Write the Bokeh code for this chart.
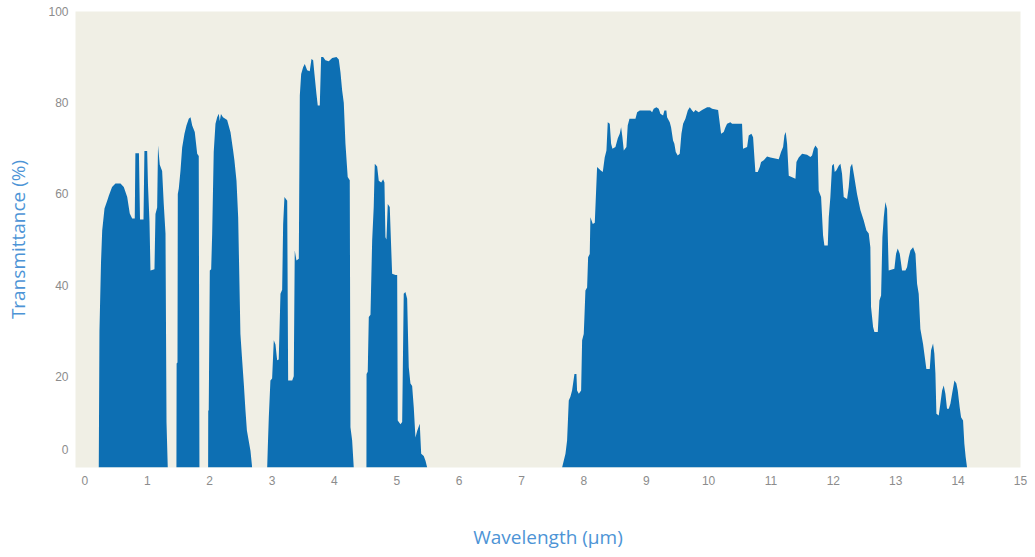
from bokeh.plotting import figure
from bokeh.models import ColumnDataSource, FixedTicker, Range1d
from bokeh.embed import file_html
from bokeh.resources import INLINE

# Atmospheric transmittance windows, wavelength in µm and transmittance in %
band1_wl = [0.223, 0.234, 0.259, 0.278, 0.315, 0.358, 0.384, 0.436, 0.491, 0.571, 0.624, 0.679, 0.720,
            0.759, 0.800, 0.810, 0.867, 0.884, 0.940, 0.955, 0.999, 1.012, 1.036, 1.052, 1.116, 1.132,
            1.159, 1.173, 1.201, 1.239, 1.264, 1.293, 1.309, 1.329]
band1_tr = [0, 30, 45, 52, 56.8, 58.5, 59.6, 61.5, 62.3, 62.3, 61.5, 59.3, 55.7,
            54.6, 54.6, 68.9, 68.9, 54.4, 54.4, 69.4, 69.4, 62, 54, 43.2, 43.5, 55.6,
            57, 70.6, 66.4, 65, 58, 51.3, 10, 0]

band2_wl = [1.468, 1.471, 1.485, 1.490, 1.506, 1.533, 1.560, 1.597, 1.629, 1.666, 1.694, 1.721,
            1.762, 1.801, 1.826, 1.837]
band2_tr = [0, 22.8, 23, 60, 61.2, 65.1, 70.2, 73.2, 75, 76.5, 76.8, 75,
            73.6, 68.8, 68.3, 0]

band3_wl = [1.976, 1.978, 1.986, 2.003, 2.025, 2.041, 2.066, 2.094, 2.121, 2.147, 2.163, 2.182,
            2.214, 2.281, 2.335, 2.377, 2.398, 2.431, 2.458, 2.494, 2.522, 2.548, 2.575, 2.598,
            2.655, 2.682]
band3_tr = [0, 12.5, 12.5, 43.2, 43.5, 51.2, 69.2, 75.4, 76.8, 77.6, 76, 77.5,
            76.8, 76.2, 73.5, 69.5, 67.3, 62.9, 54.9, 29.3, 23.5, 18.4, 12.5, 8.1,
            3.7, 0]

band4_wl = [2.923, 2.933, 2.949, 2.975, 3.002, 3.029, 3.056, 3.083, 3.108, 3.136, 3.163, 3.179,
            3.200, 3.244, 3.259, 3.324, 3.349, 3.365, 3.392, 3.430, 3.446, 3.468, 3.499, 3.526,
            3.564, 3.605, 3.633, 3.660, 3.681, 3.713, 3.734, 3.766, 3.788, 3.820, 3.857, 3.910,
            3.965, 4.034, 4.071, 4.098, 4.125, 4.151, 4.178, 4.214, 4.247, 4.258, 4.285, 4.311]
band4_tr = [0, 4.5, 11, 19.1, 19.5, 27.9, 27, 23.5, 23.7, 38.1, 39, 53.4,
            59.3, 58.5, 19.1, 19.1, 20, 47.6, 45.4, 45.8, 81.6, 86.3, 87.8, 88.5,
            87.1, 86.9, 89.6, 89.3, 86.3, 81.9, 79.4, 79.4, 90, 90, 89.3, 89.1,
            89.8, 90, 89.5, 86.7, 82.7, 80, 71, 63.7, 63, 8.8, 6, 0]

band5_wl = [4.514, 4.516, 4.535, 4.552, 4.579, 4.606, 4.631, 4.648, 4.686, 4.712, 4.751, 4.782,
            4.803, 4.819, 4.835, 4.856, 4.888, 4.926, 4.980, 5.007, 5.016, 5.060, 5.087, 5.112,
            5.139, 5.167, 5.193, 5.220, 5.247, 5.273, 5.300, 5.327, 5.369, 5.392, 5.433, 5.461,
            5.488]
band5_tr = [0, 20.5, 21, 33, 33.5, 49.8, 57.1, 66.6, 66, 62.9, 62.5, 63.2,
            62.5, 50.5, 50, 57.8, 57.1, 42.5, 42.2, 42.2, 10.3, 9.5, 10, 38.1,
            38.5, 37, 22, 18.4, 17.9, 13.2, 6.6, 8, 9.6, 3, 2.5, 1.5,
            0]

band6_wl = [7.651, 7.705, 7.731, 7.758, 7.784, 7.811, 7.849, 7.881, 7.891, 7.919, 7.956, 7.972,
            7.998, 8.009, 8.025, 8.052, 8.068, 8.094, 8.105, 8.143, 8.175, 8.212, 8.266, 8.303,
            8.334, 8.362, 8.383, 8.415, 8.437, 8.458, 8.506, 8.544, 8.575, 8.597, 8.618, 8.640,
            8.682, 8.703, 8.731, 8.827, 8.854, 8.896, 9.067, 9.094, 9.120, 9.163, 9.200, 9.227,
            9.270, 9.291, 9.323, 9.334, 9.377, 9.398, 9.430, 9.451, 9.473, 9.505, 9.537, 9.564,
            9.591, 9.628, 9.666, 9.698, 9.735, 9.762, 9.788, 9.841, 9.895, 9.976, 10.018, 10.056,
            10.152, 10.173, 10.200, 10.242, 10.270, 10.296, 10.349, 10.376, 10.536, 10.552, 10.617, 10.643,
            10.686, 10.713, 10.734, 10.750, 10.788, 10.820, 10.841, 10.884, 10.937, 10.991, 11.124, 11.161,
            11.194, 11.215, 11.236, 11.258, 11.285, 11.392, 11.408, 11.445, 11.499, 11.578, 11.632, 11.658,
            11.686, 11.712, 11.749, 11.765, 11.803, 11.835, 11.856, 11.910, 11.926, 11.952, 11.979, 12.006,
            12.022, 12.049, 12.086, 12.113, 12.139, 12.166, 12.220, 12.246, 12.273, 12.300, 12.327, 12.380,
            12.434, 12.486, 12.530, 12.567, 12.593, 12.604, 12.637, 12.658, 12.712, 12.738, 12.765, 12.786,
            12.808, 12.834, 12.861, 12.887, 12.978, 13.005, 13.032, 13.064, 13.101, 13.155, 13.181, 13.208,
            13.235, 13.278, 13.316, 13.342, 13.368, 13.395, 13.438, 13.459, 13.491, 13.545, 13.566, 13.598,
            13.619, 13.636, 13.652, 13.689, 13.715, 13.743, 13.769, 13.796, 13.822, 13.850, 13.876, 13.903,
            13.941, 13.972, 13.994, 14.025, 14.047, 14.079, 14.100, 14.121, 14.143]
band6_tr = [0, 3, 5.9, 14.7, 15.5, 16.9, 20.5, 20.5, 16.9, 16.2, 16.9, 27.9,
            29.3, 33, 38.8, 39.5, 46.1, 46.8, 54.9, 53.4, 53.7, 65.9, 65.2, 64.8,
            68, 69.5, 75.7, 75.4, 71, 69.9, 70.3, 72.2, 73.2, 74.6, 72.4, 69.5,
            70.3, 75, 76.5, 76.5, 77.9, 78.3, 78.3, 77.9, 78.7, 79, 78.7, 77.6,
            77.2, 78.3, 78.3, 76.8, 75.7, 74.6, 71.7, 71, 69.2, 68.4, 68.8, 73.2,
            75.4, 76.5, 78.3, 79, 78.3, 77.9, 78.4, 77.9, 78.4, 79, 79, 78.7,
            78.4, 76.1, 73.2, 73.6, 74.6, 75.4, 75.7, 75.4, 75.4, 69.9, 70.3, 72.8,
            73.2, 72.4, 68, 64.8, 64.8, 65.9, 67, 67.4, 68.2, 68, 67.6, 69.2,
            70.3, 72.8, 73.6, 71, 64, 63.3, 67, 68, 68.8, 68.6, 68.1, 68.4,
            69.9, 70.6, 69.9, 60.7, 59.3, 50.9, 48.7, 48.7, 54.9, 59.3, 66.2, 66.6,
            64.8, 65.2, 66.2, 66.6, 64.4, 59.3, 58.9, 61.5, 65.9, 66.6, 64.4, 59.9,
            56.4, 54.2, 52, 51.3, 48.3, 35.2, 30.8, 29.7, 29.7, 36.6, 37.7, 50.5,
            54.9, 58.2, 56.7, 43.2, 43.6, 46.9, 48, 46.9, 43.2, 43.2, 43.9, 46.1,
            47.6, 48.3, 46.9, 40.3, 38.1, 30.4, 27.1, 24.9, 21.6, 21.6, 25.7, 27.2,
            25, 20.6, 11.8, 11.4, 14, 16.9, 18, 16.2, 12.9, 12.9, 14, 16.2,
            19.1, 18.4, 16.9, 13.2, 11, 10.3, 5.2, 2.3, 0]

x_ticks = list(range(16))
y_ticks = [4, 20, 40, 60, 80, 100]
y_tick_labels = {4: "0", 20: "20", 40: "40", 60: "60", 80: "80", 100: "100"}

wavelength = band1_wl + band2_wl + band3_wl + band4_wl + band5_wl + band6_wl
transmittance = band1_tr + band2_tr + band3_tr + band4_tr + band5_tr + band6_tr
source = ColumnDataSource(data=dict(wl=wavelength, tr=transmittance))

FILL = "#0d6fb3"
LABEL_BLUE = "#4d94d6"
TICK_GREY = "#8c8c8c"

p = figure(width=1035, height=557, output_backend="svg", toolbar_location=None,
           x_range=Range1d(-0.15, 15.0), y_range=Range1d(0, 100),
           min_border_left=75, min_border_right=15, min_border_top=11, min_border_bottom=90)
p.background_fill_color = "#f0efe5"
p.border_fill_color = "white"
p.outline_line_color = None
p.grid.grid_line_color = None

p.varea(x="wl", y1=0, y2="tr", source=source, fill_color=FILL)

for ax in (p.xaxis[0], p.yaxis[0]):
    ax.axis_line_color = None
    ax.major_tick_line_color = None
    ax.minor_tick_line_color = None
    ax.major_tick_out = 0
    ax.major_tick_in = 0
    ax.major_label_text_color = TICK_GREY
    ax.major_label_text_font = "Liberation Sans"
    ax.major_label_text_font_size = "12px"
    ax.axis_label_text_color = LABEL_BLUE
    ax.axis_label_text_font = "Open Sans"
    ax.axis_label_text_font_size = "19px"
    ax.axis_label_text_font_style = "normal"

p.xaxis.ticker = FixedTicker(ticks=x_ticks)
p.xaxis.major_label_standoff = 8
p.xaxis.axis_label = "Wavelength (µm)"
p.xaxis.axis_label_standoff = 36

p.yaxis.ticker = FixedTicker(ticks=y_ticks)
p.yaxis.major_label_overrides = y_tick_labels
p.yaxis.major_label_standoff = 7
p.yaxis.axis_label = "Transmittance (%)"
p.yaxis.axis_label_standoff = 14

open("out.html", "w").write(file_html(p, INLINE))
